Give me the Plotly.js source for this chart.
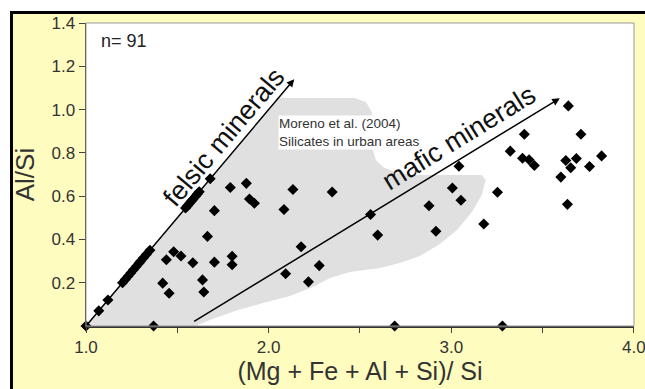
<!DOCTYPE html>
<html>
<head>
<meta charset="utf-8">
<script src="https://cdn.plot.ly/plotly-3.0.1.min.js"></script>
<style>
  html, body { margin: 0; padding: 0; background: #ffffff; width: 645px; height: 389px; overflow: hidden; }
  #frame { position: absolute; left: 10px; top: 11px; width: 700px; height: 420px;
           background: #fffcc0; border-left: 3px solid #000; border-top: 3px solid #000; }
  #chart { position: absolute; left: 0; top: 0; width: 645px; height: 389px; }
</style>
</head>
<body>
<div id="frame"></div>
<div id="chart"></div>
<script>
// Points: (Mg+Fe+Al+Si)/Si vs Al/Si
const xVals = [
  1.00, 1.37, 2.69, 3.28,
  1.07, 1.12, 1.20, 1.215, 1.23, 1.245, 1.26, 1.275, 1.29, 1.30, 1.315, 1.33, 1.35,
  1.545, 1.555, 1.565, 1.575, 1.585, 1.60, 1.61, 1.62, 1.68,
  1.42, 1.455, 1.44, 1.48, 1.52, 1.585, 1.665, 1.703, 1.703, 1.638, 1.645,
  1.79, 1.878, 1.895, 1.922, 1.80, 1.80, 2.084, 2.133, 2.348, 2.178, 2.277, 2.093, 2.218,
  2.558, 2.597, 2.878, 2.916, 3.006, 3.053, 3.042, 3.253, 3.178,
  3.323, 3.39, 3.426, 3.455, 3.40, 3.641, 3.71, 3.627, 3.685, 3.654, 3.757, 3.823, 3.60, 3.636
];
const yVals = [
  0.00, 0.00, 0.00, 0.00,
  0.07, 0.12, 0.20, 0.215, 0.23, 0.245, 0.26, 0.275, 0.29, 0.30, 0.315, 0.33, 0.35,
  0.545, 0.555, 0.565, 0.575, 0.585, 0.60, 0.61, 0.62, 0.68,
  0.198, 0.151, 0.306, 0.343, 0.323, 0.292, 0.414, 0.295, 0.533, 0.213, 0.157,
  0.640, 0.659, 0.587, 0.567, 0.322, 0.283, 0.538, 0.631, 0.619, 0.366, 0.279, 0.241, 0.204,
  0.515, 0.420, 0.556, 0.438, 0.638, 0.581, 0.738, 0.618, 0.471,
  0.808, 0.775, 0.768, 0.742, 0.886, 1.017, 0.886, 0.765, 0.774, 0.731, 0.737, 0.786, 0.688, 0.562
];

// Moreno et al. (2004) field outline
const fieldX = [1.0, 2.054, 2.472, 2.533, 2.565, 2.571, 2.571, 2.587, 2.626, 2.691, 2.773, 3.167, 3.189, 3.167, 3.113, 3.031, 2.938, 2.828, 2.719, 2.609, 2.445, 2.336, 2.242, 2.117, 1.969, 1.816, 1.679, 1.597, 1.0];
const fieldY = [0.0, 1.054, 1.054, 1.035, 0.989, 0.929, 0.813, 0.767, 0.735, 0.712, 0.698, 0.698, 0.675, 0.605, 0.527, 0.444, 0.379, 0.323, 0.291, 0.268, 0.250, 0.222, 0.180, 0.139, 0.106, 0.069, 0.028, 0.0, 0.0];

// Trend arrows: [startX, startY, tipX, tipY]
const felsicArrow = [1.0, 0.0, 2.14, 1.14];
const maficArrow = [1.584, 0.017, 3.594, 1.052];

const xTickVals = [1.0, 1.5, 2.0, 2.5, 3.0, 3.5, 4.0];
const xTickText = ['1.0', '', '2.0', '', '3.0', '', '4.0'];
const yTickVals = [0.2, 0.4, 0.6, 0.8, 1.0, 1.2, 1.4];
const yTickText = ['0.2', '0.4', '0.6', '0.8', '1.0', '1.2', '1.4'];

const FONT = 'Liberation Sans, Arial, Helvetica, sans-serif';

const traces = [
  {
    x: fieldX, y: fieldY, type: 'scatter', mode: 'lines', fill: 'toself',
    fillcolor: '#e0e0e0', line: {width: 0, color: 'rgba(0,0,0,0)'},
    hoverinfo: 'skip', showlegend: false
  },
  {
    x: xVals, y: yVals, type: 'scatter', mode: 'markers',
    marker: {symbol: 'diamond', size: 8.5, color: '#000000', line: {width: 0}},
    showlegend: false, cliponaxis: false
  }
];

function arrow(a) {
  return {
    x: a[2], y: a[3], ax: a[0], ay: a[1], xref: 'x', yref: 'y', axref: 'x', ayref: 'y',
    showarrow: true, arrowhead: 2, arrowsize: 1, arrowwidth: 1.5, arrowcolor: '#000', text: ''
  };
}

const layout = {
  width: 645, height: 389,
  margin: {l: 86, r: 11, t: 23, b: 63},
  paper_bgcolor: 'rgba(0,0,0,0)',
  plot_bgcolor: '#ffffff',
  showlegend: false,
  font: {family: FONT, color: '#333'},
  xaxis: {
    range: [1, 4.0005], tickvals: xTickVals, ticktext: xTickText,
    ticks: 'outside', ticklen: 5, tickwidth: 1, tickcolor: '#444',
    showline: true, linecolor: '#333', linewidth: 1.5,
    showgrid: false, zeroline: false, ticklabeloverflow: 'allow',
    tickfont: {size: 17, color: '#333', family: FONT},
    title: {text: '(Mg + Fe + Al + Si)/ Si', font: {size: 25, color: '#333', family: FONT}, standoff: 2}
  },
  yaxis: {
    range: [0, 1.4], tickvals: yTickVals, ticktext: yTickText,
    ticks: 'outside', ticklen: 6, tickwidth: 1, tickcolor: '#444',
    showline: true, linecolor: '#333', linewidth: 1.5,
    showgrid: false, zeroline: false,
    tickfont: {size: 17, color: '#333', family: FONT},
    title: {text: 'Al/Si', font: {size: 26, color: '#333', family: FONT}, standoff: 9}
  },
  shapes: [
    {type: 'rect', xref: 'paper', yref: 'paper', x0: 0, x1: 1, y0: 0, y1: 1,
     line: {color: '#999', width: 1}, fillcolor: 'rgba(0,0,0,0)', layer: 'above'}
  ],
  annotations: [
    arrow(felsicArrow),
    arrow(maficArrow),
    {x: 1.755, y: 0.875, xref: 'x', yref: 'y', text: 'felsic minerals', showarrow: false,
     textangle: -49.8, font: {size: 27, color: '#111', family: FONT}},
    {x: 3.04, y: 0.868, xref: 'x', yref: 'y', text: 'mafic minerals', showarrow: false,
     textangle: -31.6, font: {size: 27, color: '#111', family: FONT}},
    {x: 2.051, y: 0.894, xref: 'x', yref: 'y', xanchor: 'left', yanchor: 'middle', align: 'left',
     text: 'Moreno et al. (2004)<br>Silicates in urban areas', showarrow: false,
     bgcolor: '#ffffff', borderpad: 0,
     font: {size: 13.5, color: '#333', family: FONT}},
    {x: 0.023, y: 0.94, xref: 'paper', yref: 'paper', xanchor: 'left', yanchor: 'middle',
     text: 'n= 91', showarrow: false, font: {size: 18, color: '#222', family: FONT}}
  ]
};

Plotly.newPlot('chart', traces, layout, {staticPlot: true, displayModeBar: false});
</script>
</body>
</html>
